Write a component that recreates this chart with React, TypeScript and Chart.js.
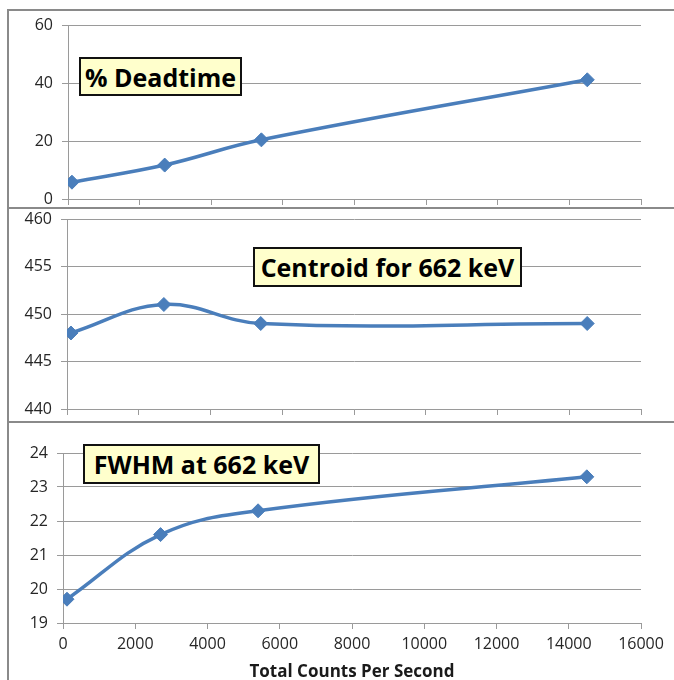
import React, { useEffect, useRef } from "react";
import { Chart, registerables } from "chart.js";

Chart.register(...registerables);

const countsPerSecond = [110, 2700, 5400, 14500];
const deadtimePct = [5.8, 11.7, 20.4, 41.1];
const centroid662 = [448, 451, 449, 449];
const fwhm662 = [19.7, 21.6, 22.3, 23.3];

const xTickMin = 0;
const xTickMax = 16000;
const xTickStep = 2000;
const xTitle = "Total Counts Per Second";

const LINE = "#4a7ebb";
const GRID = "#9a9a9a";
const TICK_FONT = "'Open Sans', sans-serif";

type PanelProps = {
  values: number[];
  yMin: number;
  yMax: number;
  yStep: number;
  top: number;
  height: number;
  yWidth: number;
  padTop: number;
  xHeight: number;
  showXLabels: boolean;
};

function Panel(p: PanelProps) {
  const ref = useRef<HTMLCanvasElement | null>(null);
  useEffect(() => {
    if (!ref.current) return;
    const chart = new Chart(ref.current, {
      type: "line",
      data: {
        datasets: [
          {
            data: countsPerSecond.map((x, i) => ({ x, y: p.values[i] })),
            borderColor: LINE,
            backgroundColor: LINE,
            borderWidth: 3.5,
            tension: 0.4,
            pointStyle: "rectRot",
            pointRadius: 7,
            pointBorderWidth: 1,
            pointBackgroundColor: LINE,
            pointBorderColor: LINE,
          },
        ],
      },
      options: {
        animation: false,
        responsive: false,
        maintainAspectRatio: false,
        layout: { padding: { top: p.padTop, right: 33, bottom: 0, left: 0 } },
        plugins: { legend: { display: false }, tooltip: { enabled: false } },
        scales: {
          x: {
            type: "linear",
            min: xTickMin,
            max: xTickMax,
            afterFit: (s: any) => {
              s.height = p.xHeight;
              s.paddingLeft = 0;
              s.paddingRight = 0;
              s.paddingTop = 0;
              s.paddingBottom = 0;
            },
            ticks: {
              stepSize: xTickStep,
              display: p.showXLabels,
              padding: 6,
              color: "#262626",
              font: { family: TICK_FONT, size: 16 },
              maxRotation: 0,
              callback: (v: any) => String(v),
            },
            grid: {
              drawOnChartArea: false,
              drawTicks: true,
              tickLength: 6,
              color: GRID,
            },
            border: { display: true, color: GRID, width: 1 },
            title: {
              display: p.showXLabels,
              text: xTitle,
              color: "#1a1a1a",
              font: { family: TICK_FONT, size: 17, weight: "bold", lineHeight: 1 },
              padding: { top: 0, bottom: -1 },
            },
          },
          y: {
            min: p.yMin,
            max: p.yMax,
            afterFit: (s: any) => {
              s.width = p.yWidth;
              s.paddingLeft = 0;
              s.paddingRight = 0;
              s.paddingTop = 0;
              s.paddingBottom = 0;
            },
            ticks: {
              stepSize: p.yStep,
              padding: 9,
              color: "#262626",
              font: { family: TICK_FONT, size: 16 },
            },
            grid: { color: GRID, tickLength: 6 },
            border: { display: true, color: GRID, width: 1 },
          },
        },
      },
    });
    return () => chart.destroy();
  }, []);
  return (
    <canvas
      ref={ref}
      width={665}
      height={p.height}
      style={{ position: "absolute", left: 9, top: p.top, width: 665, height: p.height }}
    />
  );
}

const boxStyle = (left: number, top: number, width: number, height: number): React.CSSProperties => ({
  position: "absolute",
  left,
  top,
  width,
  height,
  boxSizing: "border-box",
  background: "#ffffcc",
  border: "2px solid #111",
  fontFamily: "'Open Sans', sans-serif",
  fontWeight: 700,
  fontSize: 25,
  color: "#000",
  display: "flex",
  alignItems: "center",
  justifyContent: "center",
  whiteSpace: "nowrap",
});

const borderStyle = (top: number, height: number): React.CSSProperties => ({
  position: "absolute",
  left: 7,
  top,
  width: 700,
  height,
  borderTop: "2px solid #8a8a8a",
  borderLeft: "2px solid #8a8a8a",
  boxSizing: "border-box",
});

export default function App() {
  return (
    <div
      style={{
        position: "fixed",
        left: 0,
        top: 0,
        width: 674,
        height: 680,
        overflow: "hidden",
        background: "#fff",
      }}
    >
      <div style={borderStyle(9, 200)} />
      <div style={borderStyle(207, 215)} />
      <div style={borderStyle(421, 270)} />
      <Panel values={deadtimePct} yMin={0} yMax={60} yStep={20} top={11} height={196} yWidth={59} padTop={14} xHeight={7} showXLabels={false} />
      <Panel values={centroid662} yMin={440} yMax={460} yStep={5} top={210} height={210} yWidth={58} padTop={9} xHeight={11} showXLabels={false} />
      <Panel values={fwhm662} yMin={19} yMax={24} yStep={1} top={424} height={256} yWidth={54} padTop={29} xHeight={57} showXLabels={true} />
      <div style={boxStyle(79, 57, 163, 39)}>% Deadtime</div>
      <div style={boxStyle(253, 247, 269, 40)}>Centroid for 662 keV</div>
      <div style={boxStyle(83, 444, 237, 40)}>FWHM at 662 keV</div>
    </div>
  );
}
